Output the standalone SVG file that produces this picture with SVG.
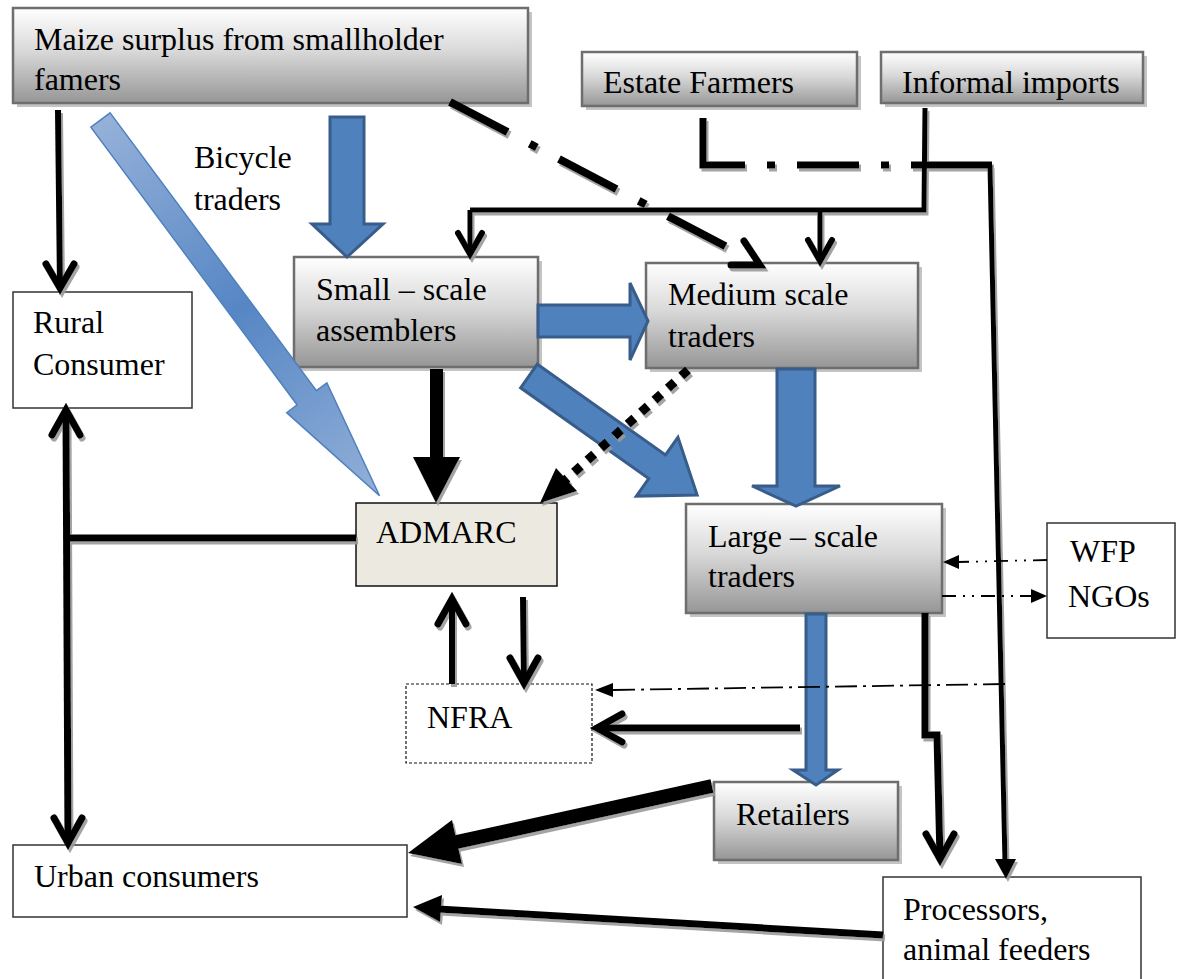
<svg xmlns="http://www.w3.org/2000/svg" width="1183" height="979" viewBox="0 0 1183 979">
<style>
.t{font-family:'Liberation Serif','DejaVu Serif',serif;font-size:32px;fill:#000}
.gbox{fill:url(#boxg);stroke:#6e6e6e;stroke-width:2.5}
.sh{fill:#c4c4c4}
.wbox{fill:#fff;stroke:#333;stroke-width:1.5}
.blk{stroke:#000;fill:none;stroke-linecap:butt}
.chev{stroke:#000;fill:none;stroke-width:7;stroke-linejoin:miter;stroke-linecap:round}
.blue{fill:#4F81BD;stroke:#385D8A;stroke-width:3;stroke-linejoin:miter}
.tri{fill:#000}
</style>
<defs>
<linearGradient id="boxg" x1="0" y1="0" x2="0" y2="1">
<stop offset="0" stop-color="#ffffff"/>
<stop offset="0.45" stop-color="#d9d9d9"/>
<stop offset="1" stop-color="#969696"/>
</linearGradient>
<linearGradient id="lightblue" gradientUnits="userSpaceOnUse" x1="0" y1="0" x2="468" y2="0">
<stop offset="0" stop-color="#95B1D9"/>
<stop offset="0.5" stop-color="#5686C4"/>
<stop offset="1" stop-color="#93B0D8"/>
</linearGradient>
<filter id="lsh" x="-10%" y="-10%" width="130%" height="130%">
<feDropShadow dx="2" dy="3" stdDeviation="0.6" flood-color="#9a9a9a" flood-opacity="0.9"/>
</filter>
</defs>

<!-- Nodes -->
<g id="maize">
<rect class="sh" x="17" y="12" width="515" height="95"/>
<rect class="gbox" x="13" y="8" width="515" height="95"/>
<text class="t" x="34" y="50">Maize surplus from smallholder</text>
<text class="t" x="34" y="90">famers</text>
</g>
<g id="estate">
<rect class="sh" x="586" y="56" width="275" height="54"/>
<rect class="gbox" x="582" y="52" width="275" height="54"/>
<text class="t" x="603" y="93">Estate Farmers</text>
</g>
<g id="informal">
<rect class="sh" x="885" y="56" width="262" height="51"/>
<rect class="gbox" x="881" y="52" width="262" height="51"/>
<text class="t" x="902" y="93">Informal imports</text>
</g>
<g id="rural">
<rect class="wbox" x="13" y="292" width="179" height="116"/>
<text class="t" x="33" y="333">Rural</text>
<text class="t" x="33" y="375">Consumer</text>
</g>
<g id="bicycle">
<text class="t" x="194" y="168">Bicycle</text>
<text class="t" x="194" y="210">traders</text>
</g>
<g id="small">
<rect class="sh" x="298" y="261" width="244" height="110"/>
<rect class="gbox" x="294" y="257" width="244" height="110"/>
<text class="t" x="316" y="300">Small – scale</text>
<text class="t" x="316" y="341">assemblers</text>
</g>
<g id="medium">
<rect class="sh" x="650" y="267" width="272" height="105"/>
<rect class="gbox" x="646" y="263" width="272" height="105"/>
<text class="t" x="668" y="305">Medium scale</text>
<text class="t" x="668" y="347">traders</text>
</g>
<g id="admarc">
<rect x="356" y="503" width="201" height="83" fill="#ECEAE0" stroke="#111" stroke-width="1.5"/>
<text class="t" x="376" y="543">ADMARC</text>
</g>
<g id="large">
<rect class="sh" x="690" y="508" width="256" height="109"/>
<rect class="gbox" x="686" y="504" width="256" height="109"/>
<text class="t" x="708" y="547">Large – scale</text>
<text class="t" x="708" y="587">traders</text>
</g>
<g id="wfp">
<rect class="wbox" x="1047" y="523" width="128" height="115"/>
<text class="t" x="1070" y="562">WFP</text>
<text class="t" x="1068" y="607">NGOs</text>
</g>
<g id="nfra">
<rect x="406" y="684" width="186" height="79" fill="#fff" stroke="#111" stroke-width="1.2" stroke-dasharray="3 2"/>
<text class="t" x="427" y="728">NFRA</text>
</g>
<g id="retailers">
<rect class="sh" x="718" y="786" width="184" height="78"/>
<rect class="gbox" x="714" y="782" width="184" height="78"/>
<text class="t" x="736" y="825">Retailers</text>
</g>
<g id="urban">
<rect class="wbox" x="13" y="845" width="394" height="72"/>
<text class="t" x="34" y="887">Urban consumers</text>
</g>
<g id="processors">
<rect class="wbox" x="883" y="877" width="258" height="115"/>
<text class="t" x="903" y="920">Processors,</text>
<text class="t" x="903" y="960">animal feeders</text>
</g>

<!-- Connectors -->
<g id="connectors">
<polygon transform="translate(100.5,120) rotate(53.4)" points="0,-12 346,-12 346,-25 468,0 346,25 346,12 0,12" fill="url(#lightblue)" stroke="#4F81BD" stroke-width="1.5"/>
<polygon class="blue" points="330,117 364,117 364,224 383,224 347,257 312,224 330,224"/>
<polygon class="blue" points="538,305 630,305 630,283 648,321 630,360 630,337 538,337"/>
<polygon class="blue" transform="translate(529,376) rotate(35.3)" points="0,-14.5 157,-14.5 157,-36 206,0 157,36 157,14.5 0,14.5"/>
<polygon class="blue" points="777,369 815,369 815,486 840,486 796,506 752,486 777,486"/>
<polygon class="blue" points="806,614 826,614 826,770 838,770 816,785 793,770 806,770"/>

<g filter="url(#lsh)">
<line class="blk" x1="58" y1="110" x2="60" y2="286" stroke-width="6"/>
<polyline class="chev" points="46,264 60,288 74,264"/>
<polyline class="blk" points="925,108 924,210 470,210" stroke-width="5"/>
<line class="blk" x1="470" y1="210" x2="470" y2="252" stroke-width="5"/>
<polyline class="chev" points="458,233 470,254 482,233" style="stroke-width:6"/>
<line class="blk" x1="820" y1="210" x2="820" y2="259" stroke-width="5"/>
<polyline class="chev" points="808,240 820,261 832,240" style="stroke-width:6"/>
<path class="blk" d="M703,118 V165 H992" stroke-width="7" stroke-dasharray="89 22 8 22 62 22 8 22 120"/>
<line class="blk" x1="990" y1="165" x2="1005" y2="862" stroke-width="5"/>
<polygon class="tri" points="995,859 1016,859 1006,879"/>
<line class="blk" x1="450" y1="102" x2="744" y2="256" stroke-width="8" stroke-dasharray="65 25 8 25"/>
<polyline class="chev" points="731,265 760,265 744,241" style="stroke-width:7"/>
<rect x="430" y="369" width="13" height="89" fill="#000"/>
<polygon class="tri" points="413,457 460,457 436,503"/>
<line class="blk" x1="688" y1="370" x2="562" y2="483" stroke-width="9" stroke-dasharray="9 9"/>
<polygon class="tri" points="540,503 556,468 577,491"/>
<line class="blk" x1="66" y1="412" x2="68" y2="841" stroke-width="7"/>
<polyline class="chev" points="52,435 66,410 80,435"/>
<polyline class="chev" points="54,818 68,843 82,818"/>
<line class="blk" x1="66" y1="538" x2="356" y2="538" stroke-width="7"/>
<line class="blk" x1="452" y1="684" x2="452" y2="601" stroke-width="6"/>
<polyline class="chev" points="438,624 452,599 466,624"/>
<line class="blk" x1="523" y1="597" x2="524" y2="681" stroke-width="6"/>
<polyline class="chev" points="510,658 524,683 538,658"/>
<line class="blk" x1="800" y1="728" x2="598" y2="728" stroke-width="7"/>
<polyline class="chev" points="622,714 597,728 622,742"/>
<polyline class="blk" points="925,613 925,735 937,735 940,858" stroke-width="7"/>
<polyline class="chev" points="926,834 940,859 954,834"/>
<line class="blk" x1="712" y1="786" x2="452" y2="843" stroke-width="14"/>
<polygon class="tri" points="408,853 452,820 462,864"/>
<line class="blk" x1="883" y1="935" x2="438" y2="909" stroke-width="7"/>
<polygon class="tri" points="413,907 442,895 440,922"/>
</g>
<line x1="1005" y1="684" x2="612" y2="690" stroke="#000" stroke-width="1.8" stroke-dasharray="22 6 3 6"/>
<polygon class="tri" points="595,690 613,683 613,697"/>
<line x1="1047" y1="560" x2="958" y2="562" stroke="#000" stroke-width="1.8" stroke-dasharray="14 7 2 7 2 7"/>
<polygon class="tri" points="943,562 959,555 959,569"/>
<line x1="942" y1="596" x2="1031" y2="596" stroke="#000" stroke-width="1.8" stroke-dasharray="14 7 2 7 2 7"/>
<polygon class="tri" points="1047,596 1031,589 1031,603"/>
</g>
</svg>
